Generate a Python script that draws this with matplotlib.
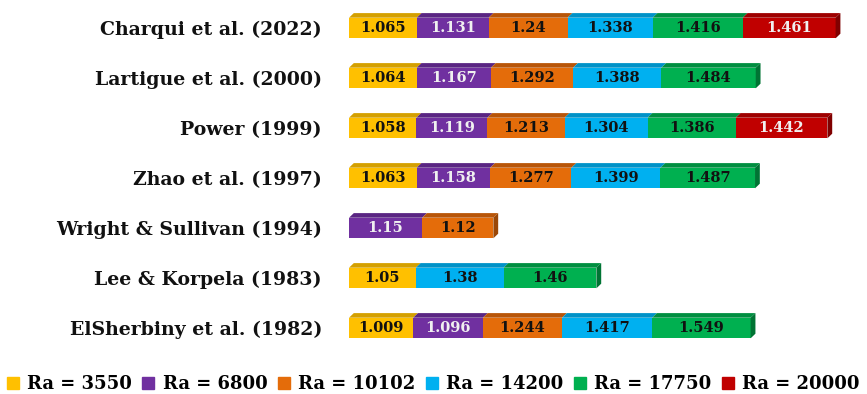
import matplotlib
matplotlib.use("Agg")
import matplotlib.pyplot as plt
from matplotlib.patches import Polygon, Rectangle
from matplotlib.lines import Line2D
import numpy as np

# Studies, bottom to top
studies = [
    "ElSherbiny et al. (1982)",
    "Lee & Korpela (1983)",
    "Wright & Sullivan (1994)",
    "Zhao et al. (1997)",
    "Power (1999)",
    "Lartigue et al. (2000)",
    "Charqui et al. (2022)",
]

ra_labels = ["Ra = 3550", "Ra = 6800", "Ra = 10102", "Ra = 14200", "Ra = 17750", "Ra = 20000"]

nan = np.nan
ra_3550 = [1.009, 1.05, nan, 1.063, 1.058, 1.064, 1.065]
ra_6800 = [1.096, nan, 1.15, 1.158, 1.119, 1.167, 1.131]
ra_10102 = [1.244, nan, 1.12, 1.277, 1.213, 1.292, 1.24]
ra_14200 = [1.417, 1.38, nan, 1.399, 1.304, 1.388, 1.338]
ra_17750 = [1.549, 1.46, nan, 1.487, 1.386, 1.484, 1.416]
ra_20000 = [nan, nan, nan, nan, 1.442, nan, 1.461]
series = [ra_3550, ra_6800, ra_10102, ra_14200, ra_17750, ra_20000]

face_colors = ["#FFC000", "#7030A0", "#E46C0A", "#00B0F0", "#00B050", "#C00000"]
top_colors = ["#D4A000", "#5A2583", "#B85508", "#0092C8", "#008E40", "#9E0000"]
side_colors = ["#B38600", "#4A1E6C", "#9A4707", "#0079A6", "#007434", "#800000"]
text_colors = ["#111111", "#F0F0F0", "#111111", "#111111", "#111111", "#F0F0F0"]

serif = "DejaVu Serif"

W, H = 867, 394
fig = plt.figure(figsize=(W / 100, H / 100), dpi=100)
ax_left, ax_right, ax_top, ax_bottom = 349, 862, 3, 353
ax = fig.add_axes([ax_left / W, 1 - ax_bottom / H, (ax_right - ax_left) / W, (ax_bottom - ax_top) / H])
px_per_unit = 63.6
xmax = (ax_right - ax_left) / px_per_unit
ax.set_xlim(0, xmax)
ax.set_ylim(-0.5, len(studies) - 0.5)

row_px = (ax_bottom - ax_top) / len(studies)
bar_h = 20.6 / row_px
dx = 4.8 / px_per_unit
dy = 4.6 / row_px

for i, name in enumerate(studies):
    left = 0.0
    drawn = []
    for s, vals in enumerate(series):
        v = vals[i]
        if np.isnan(v):
            continue
        drawn.append((s, left, v))
        left += v
    for s, l, v in drawn:
        y0, y1 = i - bar_h / 2, i + bar_h / 2
        # front face
        ax.add_patch(Rectangle((l, y0), v, bar_h, facecolor=face_colors[s], edgecolor="none", zorder=2))
        # top face
        ax.add_patch(Polygon([(l, y1), (l + v, y1), (l + v + dx, y1 + dy), (l + dx, y1 + dy)],
                             closed=True, facecolor=top_colors[s], edgecolor="none", zorder=2))
        ax.text(l + v / 2, i - 0.01, f"{v:g}", ha="center", va="center", fontsize=10.5,
                fontweight="bold", family=serif, color=text_colors[s], zorder=3)
    # right side face of the last segment
    s, l, v = drawn[-1]
    end = l + v
    y0, y1 = i - bar_h / 2, i + bar_h / 2
    ax.add_patch(Polygon([(end, y0), (end + dx, y0 + dy), (end + dx, y1 + dy), (end, y1)],
                         closed=True, facecolor=side_colors[s], edgecolor="none", zorder=2))

ax.set_yticks(range(len(studies)))
ax.set_yticklabels(studies, fontsize=13.6, fontweight="bold", family=serif, color="#111111")
ax.tick_params(axis="y", length=0, pad=19.5)
ax.set_xticks([])
for sp in ax.spines.values():
    sp.set_visible(False)

handles = [Line2D([], [], marker="s", linestyle="", markersize=8, color=c) for c in face_colors]
fig.legend(handles, ra_labels, loc="center", bbox_to_anchor=(0.5, 10 / H), ncol=6, frameon=False,
           handlelength=0.6, handletextpad=0.5, columnspacing=0.6, borderpad=0.1, borderaxespad=0,
           prop={"family": serif, "weight": "bold", "size": 13})

fig.savefig("out.png", dpi=100)
